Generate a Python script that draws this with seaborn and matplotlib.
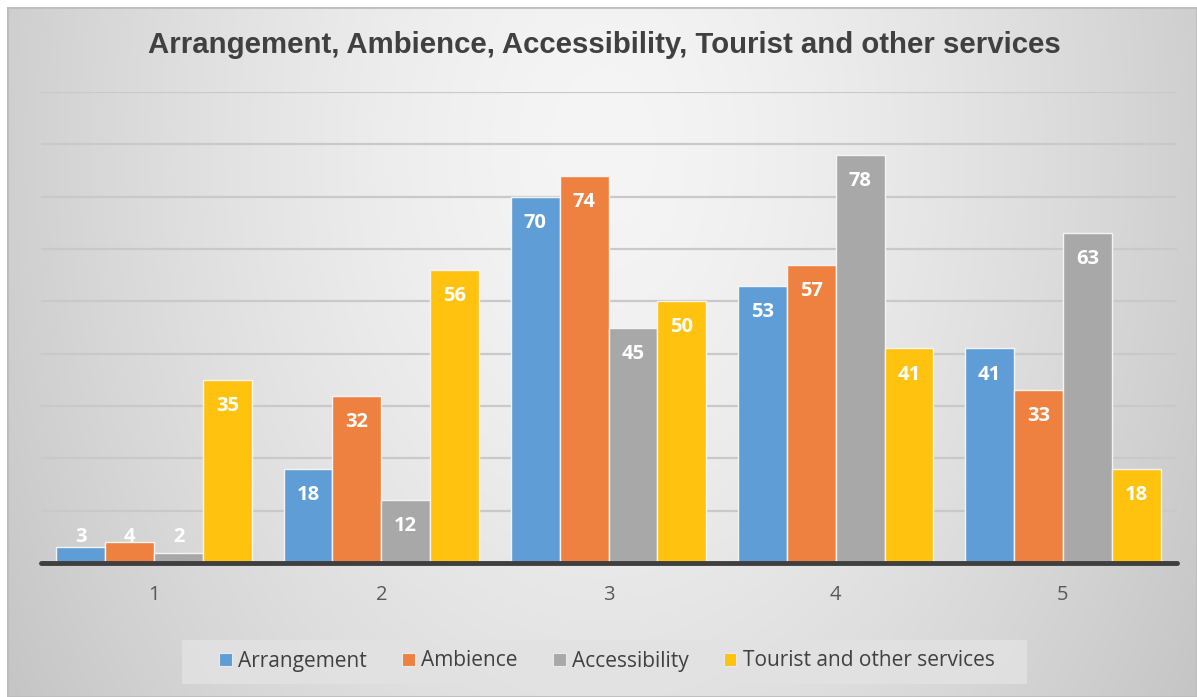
import numpy as np
import pandas as pd
import matplotlib
matplotlib.use("Agg")
import matplotlib.pyplot as plt
from matplotlib.patches import Patch, Rectangle
import seaborn as sns

# Survey ratings (1-5) per aspect
ratings = ["1", "2", "3", "4", "5"]
arrangement = [3, 18, 70, 53, 41]
ambience = [4, 32, 74, 57, 33]
accessibility = [2, 12, 45, 78, 63]
tourist_services = [35, 56, 50, 41, 18]

series_names = ["Arrangement", "Ambience", "Accessibility", "Tourist and other services"]
series_colors = ["#5f9dd6", "#ee8140", "#a8a8a8", "#fec20f"]

df = pd.DataFrame({
    "rating": ratings * 4,
    "count": arrangement + ambience + accessibility + tourist_services,
    "aspect": sum([[n] * len(ratings) for n in series_names], []),
})

sns.set_style("white")
plt.rcParams["font.family"] = ["Open Sans", "DejaVu Sans"]

W, H = 1197, 697
fig = plt.figure(figsize=(W / 100, H / 100), dpi=100)
fig.patch.set_facecolor("white")

# radial grey gradient behind the chart
bx0, by0 = 7, 7
bg = fig.add_axes([bx0 / W, 0, 1 - bx0 / W, (H - by0) / H], zorder=-2)
gh, gw = H - by0, W - bx0
yy, xx = np.mgrid[0:gh, 0:gw]
d = np.sqrt(((xx - 595) / 680.0) ** 2 + ((yy - 140) / 1000.0) ** 2)
shade = np.clip(245 - 46 * d ** 1.5, 150, 255) / 255.0
bg.imshow(np.dstack([shade] * 3), aspect="auto", interpolation="bilinear",
          extent=[0, 1, 0, 1])
bg.set_xlim(0, 1)
bg.set_ylim(0, 1)
bg.add_patch(Rectangle((0, 0), 1, 1, fill=False, edgecolor="#bdbdbd", lw=2,
                       transform=bg.transAxes))
bg.axis("off")

# plotting area
left, right = 40.5, 1176.5
base_y, top_y = 563, 92
ax = fig.add_axes([left / W, (H - base_y) / H, (right - left) / W, (base_y - top_y) / H])
ax.set_facecolor("none")

sns.barplot(data=df, x="rating", y="count", hue="aspect", hue_order=series_names,
            palette=series_colors, width=0.86, gap=0, saturation=1,
            edgecolor="#f4f4f4", linewidth=1.0, ax=ax, zorder=3)

ax.set_ylim(0, 90)
ax.set_xlim(-0.5, 4.5)
for v in range(10, 91, 10):
    ax.axhline(v, color="#c9c9c9", lw=1.6, zorder=1)
ax.axhline(0, color="#3f3f3f", lw=3.5, zorder=4, clip_on=False)

for s in ax.spines.values():
    s.set_visible(False)
ax.set_yticks([])
ax.set_xlabel("")
ax.set_ylabel("")
ax.tick_params(axis="x", length=0, pad=16, labelsize=14.5, labelcolor="#595959")

# value labels inside the top of each bar
for cont, vals in zip(ax.containers, [arrangement, ambience, accessibility, tourist_services]):
    for bar, v in zip(cont, vals):
        cx = bar.get_x() + bar.get_width() / 2
        ax.text(cx, max(v - 5, 5), str(v), ha="center", va="center",
                color="white", fontsize=14.5, fontweight="bold", zorder=5)

# legend panel
ax.get_legend().remove()
fig.patches.append(Rectangle((182 / W, 1 - 684 / H), (1027 - 182) / W, 44 / H,
                             transform=fig.transFigure, facecolor="#e2e2e2",
                             edgecolor="none", alpha=0.85, zorder=0))
handles = [Patch(facecolor=c, edgecolor="#e8e8e8", lw=0.8) for c in series_colors]
fig.legend(handles, series_names, loc="center", bbox_to_anchor=(607 / W, 1 - 661 / H),
           ncol=4, frameon=False, fontsize=15,
           handlelength=0.6, handleheight=0.6, handletextpad=0.3,
           columnspacing=1.7, borderpad=0.2, labelcolor="#404040")

fig.text(604 / W, 1 - 45 / H, "Arrangement, Ambience, Accessibility, Tourist and other services",
         ha="center", va="center", fontsize=21.2, fontweight="bold",
         color="#404040", family=["Liberation Sans", "DejaVu Sans"])

fig.savefig("out.png", dpi=100)
